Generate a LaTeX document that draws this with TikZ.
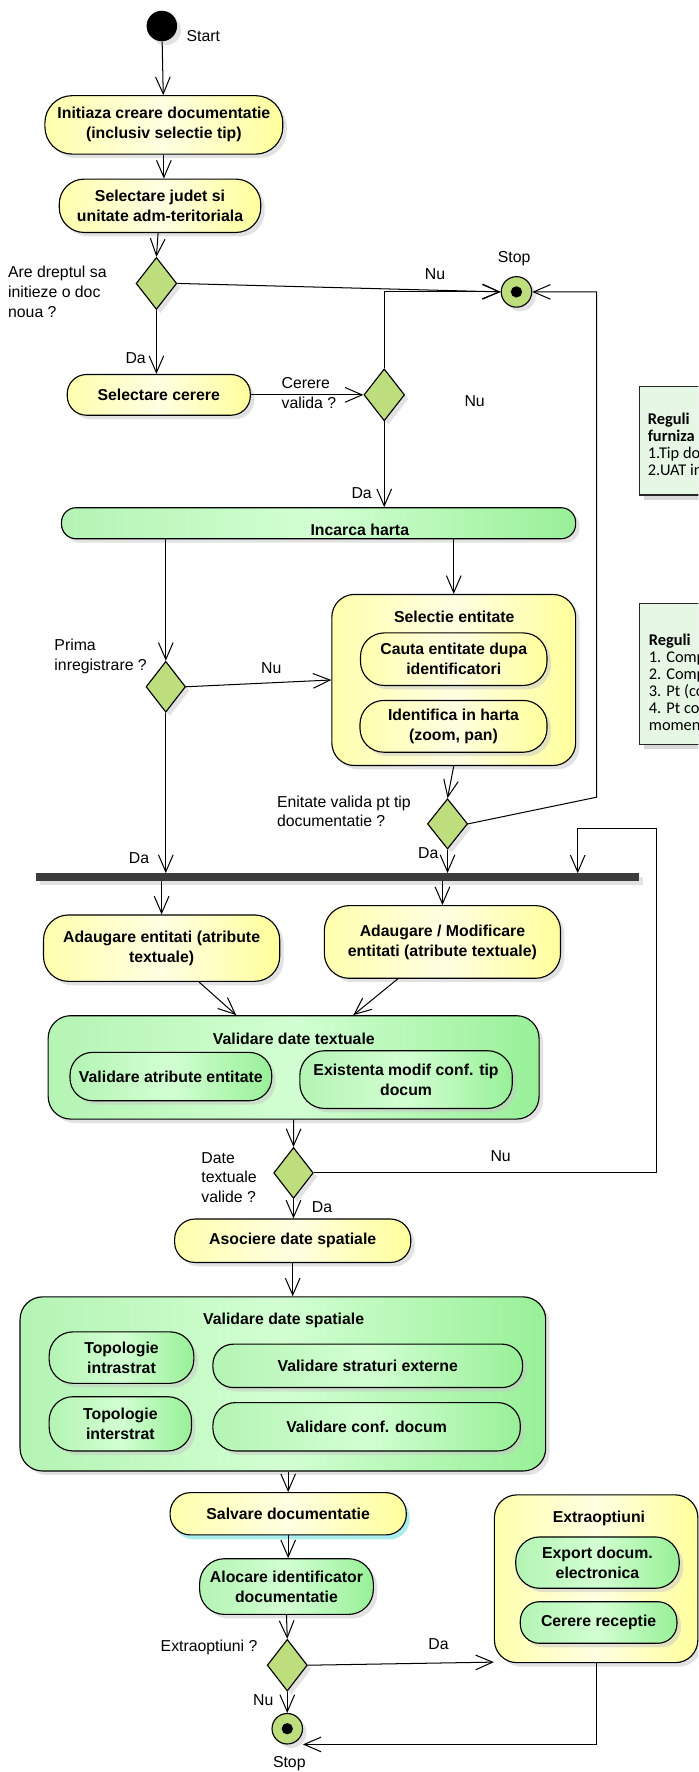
\documentclass[tikz,border=0pt]{standalone}
\usepackage{fontspec}
\setmainfont{Liberation Sans}
\newfontfamily\notefont{Carlito}
\usetikzlibrary{arrows.meta,shapes.geometric,shadows,calc}
\definecolor{ylA}{HTML}{FFFFAE}
\definecolor{ylB}{HTML}{FFFFE2}
\definecolor{ylC}{HTML}{FFFF9C}
\definecolor{grA}{HTML}{B4F4B4}
\definecolor{grB}{HTML}{D2FFD2}
\definecolor{grC}{HTML}{98F098}
\definecolor{diag}{HTML}{BEDD7C}
\definecolor{barc}{HTML}{3C3C3C}
\definecolor{noteg}{HTML}{E6F7E6}
\definecolor{cyanS}{HTML}{55DDE0}
\begin{document}
\begin{tikzpicture}[x=1pt,y=-1pt,
  shd/.style={drop shadow={shadow xshift=3.5pt,shadow yshift=-3.5pt,fill=black!22}},
  boxc/.style={draw=black,line width=1pt,align=center,inner sep=2pt,font=\bfseries\fontsize{14}{17.7}\selectfont},
  yelc/.style={boxc,left color=ylA,right color=ylC,middle color=ylB},
  yel/.style={yelc,shd},
  grn/.style={boxc,left color=grA,right color=grC,middle color=grB,shd},
  sz/.style n args={3}{minimum width=#1pt,minimum height=#2pt,rounded corners=#3pt},
  dia/.style={diamond,draw=black,line width=1pt,fill=diag,minimum width=36pt,minimum height=46pt,inner sep=0pt,shd},
  stopn/.style={circle,draw=black,line width=1pt,fill=diag,minimum size=27pt,inner sep=0pt,shd,
    path picture={\fill[black] (path picture bounding box.center) circle[radius=5pt];}},
  lbl/.style={font=\fontsize{14}{17.5}\selectfont,align=left,inner sep=0pt},
  ttl/.style={font=\bfseries\fontsize{14}{17}\selectfont,inner sep=0pt},
  arr/.style={draw=black,line width=0.9pt,-{Straight Barb[length=15pt,width=13pt,line width=0.9pt]}},
  note/.style={draw=black!85,line width=1pt,fill=noteg,anchor=north west,drop shadow={shadow xshift=4pt,shadow yshift=-4pt,fill=black!30}},
  notetxt/.style={font=\notefont\fontsize{14.5}{15}\selectfont,align=left,inner sep=0pt,anchor=north west}
]
\useasboundingbox (0,0) rectangle (618,1568);
\fill[white] (0,0) rectangle (618,1568);
\clip (0,0) rectangle (618,1568);

% notes
\node[note,minimum width=80pt,minimum height=96pt] (n1) at (565.5,341.5) {};
\node[notetxt] (n1t) at (573,365) {\textbf{Reguli}\\\textbf{furniza}\\1.Tip do\\2.UAT in};
\node[note,minimum width=80pt,minimum height=125pt] (n2) at (565.5,533.5) {};
\node[notetxt] (n2t) at (574,561) {\textbf{Reguli}\\1. Comp\\2. Comp\\3. Pt (co\\4. Pt co\\momen};

% start / top actions
\node[circle,fill=black,minimum size=27pt,inner sep=0pt,shd] (start) at (143.2,23) {};
\node[yel,sz={210.5}{51.7}{24}] (init) at (145,110.5) {Initiaza creare documentatie\\(inclusiv selectie tip)};
\node[yel,sz={178.3}{47.2}{22}] (judet) at (141.6,182.1) {Selectare judet si\\unitate adm-teritoriala};
\node[dia] (d1) at (138.4,250.8) {};
\node[stopn] (stop1) at (457,258.3) {};
\node[yel,sz={162}{36}{17}] (selcer) at (140.5,349.4) {Selectare cerere};
\node[dia] (d2) at (340,349.4) {};

\node[grn,sz={455}{27.5}{13}] (incarca) at (281.9,463) {\raisebox{-11pt}[0pt][0pt]{\hspace*{73pt}Incarca harta}};

\node[yel,sz={215.7}{151.4}{20}] (selectie) at (401.5,601.7) {};
\node[ttl] (selT) at (402,546) {Selectie entitate};
\node[yel,sz={165}{46.5}{21}] (cauta) at (401.5,583.3) {Cauta entitate dupa\\identificatori};
\node[yel,sz={165.5}{45.8}{21}] (ident) at (401.3,642.7) {Identifica in harta\\(zoom, pan)};
\node[dia,minimum width=35pt,minimum height=45pt] (d3) at (146.7,607.7) {};
\node[dia,minimum width=35.5pt,minimum height=44.5pt] (d4) at (396,729) {};

\node[fill=barc,minimum width=534pt,minimum height=7pt,inner sep=0pt,shd] (bar) at (298.5,776.2) {};

\node[yel,sz={209}{58.7}{22}] (adaug1) at (143,839) {Adaugare entitati (atribute\\textuale)};
\node[yel,sz={209}{64.3}{22}] (adaug2) at (391.5,833.5) {Adaugare / Modificare\\entitati (atribute textuale)};

\node[grn,sz={434.4}{91.5}{20}] (valtext) at (259.8,944.5) {};
\node[ttl] (vtT) at (260,919) {Validare date textuale};
\node[grn,sz={178.5}{42.8}{20}] (valatr) at (151.2,952.6) {Validare atribute entitate};
\node[grn,sz={188}{51.1}{22}] (exist) at (359.3,955.3) {Existenta modif conf. tip\\docum};
\node[dia,minimum width=35pt,minimum height=45pt] (d5) at (259.7,1037.9) {};

\node[yel,sz={209}{38.4}{18}] (asoc) at (259,1097.9) {Asociere date spatiale};

\node[grn,sz={465.1}{154.1}{20}] (valsp) at (250.3,1224.6) {};
\node[ttl] (vsT) at (251,1168) {Validare date spatiale};
\node[grn,sz={128}{45.5}{21}] (topintra) at (107.5,1201.3) {Topologie\\intrastrat};
\node[grn,sz={126}{48}{21}] (topinter) at (106.5,1259.9) {Topologie\\interstrat};
\node[grn,sz={274}{38.4}{18}] (valstrat) at (325.4,1208.6) {Validare straturi externe};
\node[grn,sz={272}{42.8}{20}] (valconf) at (324.4,1262.5) {Validare conf. docum};

\node[yelc,sz={209}{37.4}{18},drop shadow={shadow xshift=3pt,shadow yshift=-4pt,fill=cyanS}] (salv) at (255,1339.5) {Salvare documentatie};
\node[grn,sz={153.7}{49.3}{22}] (aloc) at (253.5,1403.9) {Alocare identificator\\documentatie};
\node[dia,minimum width=35.5pt,minimum height=45.8pt] (d6) at (254.2,1473.5) {};
\node[stopn] (stop2) at (254.2,1529.7) {};

\node[yel,sz={180}{148.5}{20}] (extra) at (527.5,1397) {};
\node[ttl] (exT) at (530,1344) {Extraoptiuni};
\node[grn,sz={144.6}{45.4}{21}] (export) at (528.7,1382.7) {Export docum.\\electronica};
\node[grn,sz={138.6}{36.8}{17}] (cerrec) at (529.7,1435.7) {Cerere receptie};

% labels
\node[lbl,anchor=west] (lstart) at (165,32) {Start};
\node[lbl,anchor=west] (l1) at (7,258) {Are dreptul sa\\initieze o doc\\noua ?};
\node[lbl] (lstop1) at (455,229) {Stop};
\node[lbl] (lnu1) at (385,243) {Nu};
\node[lbl] (lda1) at (120,317) {Da};
\node[lbl,anchor=west] (lcer) at (249,348) {Cerere\\valida ?};
\node[lbl] (lnu2) at (420,355) {Nu};
\node[lbl] (lda2) at (320,436) {Da};
\node[lbl,anchor=west] (lprima) at (48,581) {Prima\\inregistrare ?};
\node[lbl] (lnu3) at (240,591) {Nu};
\node[lbl,anchor=west] (lent) at (245,718) {Enitate valida pt tip\\documentatie ?};
\node[lbl] (lda3) at (123,759) {Da};
\node[lbl] (lda4) at (379,755) {Da};
\node[lbl,anchor=west] (ldate) at (178,1042) {Date\\textuale\\valide ?};
\node[lbl] (lnu4) at (443,1023) {Nu};
\node[lbl] (lda5) at (285,1068) {Da};
\node[lbl] (lext) at (185,1458) {Extraoptiuni ?};
\node[lbl] (lda6) at (388,1455) {Da};
\node[lbl] (lnu5) at (233,1504) {Nu};
\node[lbl] (lstop2) at (256,1561) {Stop};

% helper coordinates
\coordinate (c1) at (528,705.4);
\coordinate (lp1) at (580.6,733.4);
\coordinate (lp2) at (511.2,772.7);
\coordinate (rett) at (268,1543.6);

% connectors
\draw[arr] (start) -- (init);
\draw[arr] (init) -- (init.south |- judet.north);
\draw[arr] (judet) -- (d1.north);
\draw[arr] (d1.east) -- (stop1.west);
\draw[arr] (d1.south) -- (d1.south |- selcer.north);
\draw[arr] (selcer.east) -- (d2.west);
\draw[arr] (d2.north) |- (stop1.west);
\draw[arr] (d2.south) -- (d2.south |- incarca.north);
\draw[arr] (d3.north |- incarca.south) -- (d3.north);
\draw[arr] (selectie.north |- incarca.south) -- (selectie.north);
\draw[arr] (d3.east) -- (selectie.west);
\draw[arr] (d3.south) -- (d3.south |- bar.north);
\draw[arr] (selectie.south) -- (d4.north);
\draw[arr] (d4.east) -- (c1) |- (stop1.east);
\draw[arr] (d4.south) -- (d4.south |- bar.north);
\draw[arr] (bar.south -| adaug1.north) -- (adaug1.north);
\draw[arr] (bar.south -| adaug2.north) -- (adaug2.north);
\draw[arr] ([xshift=33pt]adaug1.south) -- ([xshift=-50.8pt]valtext.north);
\draw[arr] ([xshift=-39.5pt]adaug2.south) -- ([xshift=52.8pt]valtext.north);
\draw[arr] (valtext.south) -- (d5.north);
\draw[arr] (d5.east) -| (lp1) -| (lp2);
\draw[arr] (d5.south) -- (d5.south |- asoc.north);
\draw[arr] (asoc.south) -- (asoc.south |- valsp.north);
\draw[arr] (valsp.south -| salv.north) -- (salv.north);
\draw[arr] (salv.south) -- (salv.south |- aloc.north);
\draw[arr] (aloc.south) -- (d6.north);
\draw[arr] (d6.east) -- ([yshift=1pt]extra.south west);
\draw[arr] (d6.south) -- (stop2.north);
\draw[arr] (extra.south) |- (rett);
\end{tikzpicture}
\end{document}
